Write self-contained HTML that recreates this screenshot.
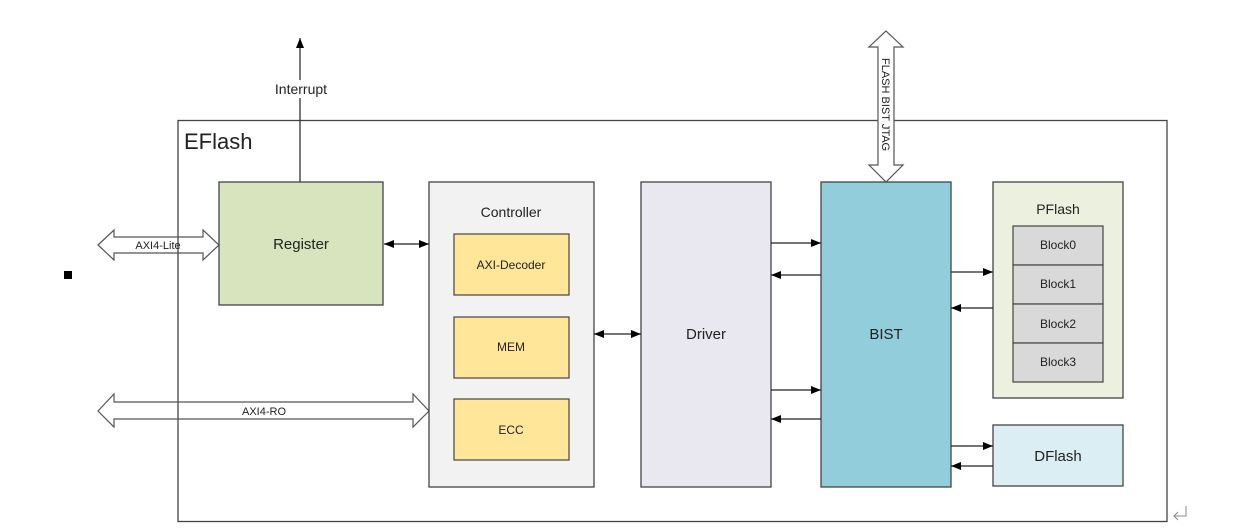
<!DOCTYPE html>
<html><head><meta charset="utf-8"><style>
html,body{margin:0;padding:0;background:#fff;}
svg{display:block;font-family:"Liberation Sans",sans-serif;}
</style></head><body>
<svg width="1242" height="530" viewBox="0 0 1242 530" xmlns="http://www.w3.org/2000/svg">
<defs>
<marker id="ah" markerWidth="10" markerHeight="8" refX="10" refY="4" orient="auto-start-reverse" markerUnits="userSpaceOnUse">
<path d="M0,0 L10,4 L0,8 Z" fill="#000"/></marker>
</defs>
<!-- outer box -->
<rect x="178" y="120.5" width="989" height="401" fill="none" stroke="#444" stroke-width="1.3"/>
<text x="184" y="149" font-size="22" fill="#222">EFlash</text>
<!-- interrupt -->
<line x1="300" y1="182" x2="300" y2="38" stroke="#333" stroke-width="1.3" marker-end="url(#ah)"/>
<rect x="268" y="80" width="66" height="18" fill="#fff"/>
<text x="301" y="94" font-size="14" text-anchor="middle" fill="#222">Interrupt</text>
<!-- register -->
<rect x="219" y="182" width="164" height="123" fill="#d7e4bd" stroke="#444" stroke-width="1.3"/>
<text x="301" y="249" font-size="15" text-anchor="middle" fill="#222">Register</text>
<!-- AXI4-Lite -->
<path d="M98,245 L114,230 L114,237 L203,237 L203,230 L219,245 L203,260 L203,253 L114,253 L114,260 Z" fill="none" stroke="#555" stroke-width="1.2"/>
<text x="158" y="249" font-size="11" text-anchor="middle" fill="#222">AXI4-Lite</text>
<!-- AXI4-RO -->
<path d="M98,411 L114,394 L114,402 L413,402 L413,394 L429,411 L413,427 L413,419 L114,419 L114,427 Z" fill="none" stroke="#555" stroke-width="1.2"/>
<text x="264" y="415" font-size="11" text-anchor="middle" fill="#222">AXI4-RO</text>
<!-- controller -->
<rect x="429" y="182" width="165" height="305" fill="#f2f2f2" stroke="#444" stroke-width="1.3"/>
<text x="511" y="217" font-size="14" text-anchor="middle" fill="#222">Controller</text>
<rect x="454" y="234" width="115" height="61" fill="#ffe699" stroke="#444" stroke-width="1.2"/>
<text x="511" y="269" font-size="12" text-anchor="middle" fill="#222">AXI-Decoder</text>
<rect x="454" y="317" width="115" height="61" fill="#ffe699" stroke="#444" stroke-width="1.2"/>
<text x="511" y="351" font-size="12" text-anchor="middle" fill="#222">MEM</text>
<rect x="454" y="399" width="115" height="61" fill="#ffe699" stroke="#444" stroke-width="1.2"/>
<text x="511" y="434" font-size="12" text-anchor="middle" fill="#222">ECC</text>
<line x1="384" y1="244" x2="429" y2="244" stroke="#222" stroke-width="1.3" marker-start="url(#ah)" marker-end="url(#ah)"/>
<!-- driver -->
<rect x="641" y="182" width="130" height="305" fill="#e9e7f0" stroke="#444" stroke-width="1.3"/>
<text x="706" y="339" font-size="15" text-anchor="middle" fill="#222">Driver</text>
<line x1="594" y1="334" x2="641" y2="334" stroke="#222" stroke-width="1.3" marker-start="url(#ah)" marker-end="url(#ah)"/>
<!-- BIST -->
<rect x="821" y="182" width="130" height="305" fill="#92cddc" stroke="#444" stroke-width="1.3"/>
<text x="886" y="339" font-size="15" text-anchor="middle" fill="#222">BIST</text>
<line x1="771" y1="243" x2="821" y2="243" stroke="#222" stroke-width="1.3" marker-end="url(#ah)"/>
<line x1="821" y1="275" x2="771" y2="275" stroke="#222" stroke-width="1.3" marker-end="url(#ah)"/>
<line x1="771" y1="390" x2="821" y2="390" stroke="#222" stroke-width="1.3" marker-end="url(#ah)"/>
<line x1="821" y1="419" x2="771" y2="419" stroke="#222" stroke-width="1.3" marker-end="url(#ah)"/>
<!-- JTAG -->
<path d="M886,31 L903,47 L894,47 L894,165 L903,165 L886,182 L869,165 L878,165 L878,47 L869,47 Z" fill="#fff" stroke="#555" stroke-width="1.2"/>
<text x="0" y="0" font-size="11" fill="#222" transform="translate(882,58) rotate(90)">FLASH BIST JTAG</text>
<!-- PFlash -->
<rect x="993" y="182" width="130" height="216" fill="#ebf1de" stroke="#444" stroke-width="1.3"/>
<text x="1058" y="214" font-size="14" text-anchor="middle" fill="#222">PFlash</text>
<rect x="1013" y="226" width="90" height="39" fill="#d9d9d9" stroke="#444" stroke-width="1.2"/>
<text x="1058" y="249" font-size="12" text-anchor="middle" fill="#222">Block0</text>
<rect x="1013" y="265" width="90" height="39" fill="#d9d9d9" stroke="#444" stroke-width="1.2"/>
<text x="1058" y="288" font-size="12" text-anchor="middle" fill="#222">Block1</text>
<rect x="1013" y="304" width="90" height="39" fill="#d9d9d9" stroke="#444" stroke-width="1.2"/>
<text x="1058" y="328" font-size="12" text-anchor="middle" fill="#222">Block2</text>
<rect x="1013" y="343" width="90" height="39" fill="#d9d9d9" stroke="#444" stroke-width="1.2"/>
<text x="1058" y="366" font-size="12" text-anchor="middle" fill="#222">Block3</text>
<line x1="951" y1="272" x2="993" y2="272" stroke="#222" stroke-width="1.3" marker-end="url(#ah)"/>
<line x1="993" y1="308" x2="951" y2="308" stroke="#222" stroke-width="1.3" marker-end="url(#ah)"/>
<!-- DFlash -->
<rect x="993" y="425" width="130" height="61" fill="#dbeef4" stroke="#444" stroke-width="1.3"/>
<text x="1058" y="461" font-size="15" text-anchor="middle" fill="#222">DFlash</text>
<line x1="951" y1="446" x2="993" y2="446" stroke="#222" stroke-width="1.3" marker-end="url(#ah)"/>
<line x1="993" y1="466" x2="951" y2="466" stroke="#222" stroke-width="1.3" marker-end="url(#ah)"/>
<!-- misc -->
<rect x="64" y="271" width="8" height="8" fill="#000"/>
<path d="M1186,506 L1186,516 L1174,516 M1178,512 L1174,516 L1178,520" fill="none" stroke="#888" stroke-width="1"/>
</svg>
</body></html>
